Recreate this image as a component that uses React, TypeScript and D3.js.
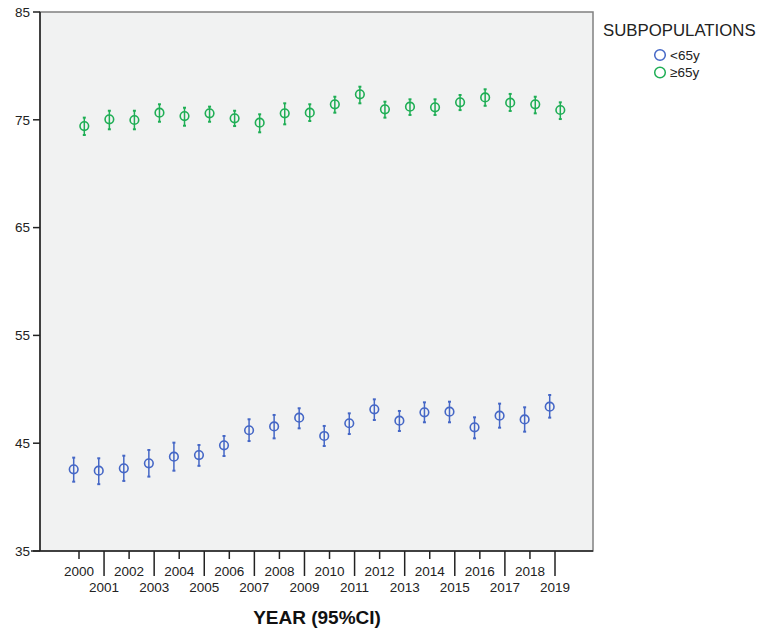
import React from "react";
import * as d3 from "d3";

const years = [2000,2001,2002,2003,2004,2005,2006,2007,2008,2009,2010,2011,2012,2013,2014,2015,2016,2017,2018,2019];
const seriesNames = ["<65y", "≥65y"];
const under65Mean = [42.58,42.45,42.67,43.13,43.75,43.9,44.8,46.2,46.56,47.37,45.67,46.85,48.14,47.09,47.86,47.92,46.47,47.55,47.21,48.39];
const under65Low =  [41.43,41.2,41.5,41.9,42.45,42.9,43.81,45.2,45.45,46.38,44.74,45.85,47.15,46.13,46.94,46.94,45.45,46.44,46.07,47.37];
const under65High = [43.66,43.6,43.84,44.37,45.05,44.83,45.67,47.22,47.62,48.24,46.6,47.77,49.07,47.99,48.79,48.85,47.4,48.67,48.33,49.47];
const over65Mean = [74.42,75.04,74.98,75.66,75.35,75.6,75.14,74.73,75.6,75.66,76.44,77.36,75.97,76.22,76.16,76.62,77.08,76.59,76.44,75.91];
const over65Low =  [73.59,74.12,74.12,74.82,74.45,74.82,74.42,73.84,74.58,74.89,75.66,76.53,75.2,75.45,75.45,75.9,76.3,75.82,75.6,75.07];
const over65High = [75.2,75.84,75.84,76.44,76.12,76.22,75.84,75.51,76.53,76.44,77.14,78.07,76.68,76.9,76.9,77.3,77.83,77.4,77.14,76.62];
const yTicks = [35,45,55,65,75,85];
const colors = ["#4567c6", "#1fae55"];

const FONT = "'Liberation Sans', Arial, sans-serif";

export default function App() {
  const left = 40, right = 593, top = 12, bottom = 551;
  const x = d3.scaleLinear().domain([2000, 2019]).range([79, 555]);
  const y = d3.scaleLinear().domain([35, 85]).range([bottom, top]);
  const dodge = [-5.3, 5.3];
  const series = [
    { mean: under65Mean, low: under65Low, high: under65High },
    { mean: over65Mean, low: over65Low, high: over65High },
  ];
  return (
    <svg width={762} height={633} style={{ position: "absolute", left: 0, top: 0 }} fontFamily={FONT}>
      <rect x={0} y={0} width={762} height={633} fill="#ffffff" />
      <rect x={left} y={top} width={right - left} height={bottom - top} fill="#f1f2f2" stroke="#808080" strokeWidth={1.5} />
      <line x1={left} x2={left} y1={top} y2={bottom} stroke="#222" strokeWidth={1.5} />
      <line x1={31} x2={right} y1={bottom} y2={bottom} stroke="#222" strokeWidth={1.5} />
      {yTicks.map((t) => (
        <g key={t}>
          <line x1={33} x2={left} y1={y(t)} y2={y(t)} stroke="#222" strokeWidth={1.5} />
          <text x={30} y={y(t)} dy="0.35em" textAnchor="end" fontSize={13.5} fill="#222">{t}</text>
        </g>
      ))}
      {years.map((yr, i) => {
        const odd = i % 2 === 1;
        return (
          <g key={yr}>
            <line x1={x(yr)} x2={x(yr)} y1={bottom} y2={odd ? bottom + 25 : bottom + 8} stroke="#222" strokeWidth={1.5} />
            <text x={x(yr)} y={odd ? 591.5 : 575.5} textAnchor="middle" fontSize={13.5} fill="#222">{yr}</text>
          </g>
        );
      })}
      <text x={317} y={624} textAnchor="middle" fontSize={19} fontWeight="bold" fill="#111">YEAR (95%CI)</text>
      {series.map((s, si) => (
        <g key={si} stroke={colors[si]} fill="none">
          {years.map((yr, i) => {
            const cx = x(yr) + dodge[si];
            return (
              <g key={yr}>
                <line x1={cx} x2={cx} y1={y(s.low[i])} y2={y(s.high[i])} strokeWidth={1.5} />
                <line x1={cx - 1.5} x2={cx + 1.5} y1={y(s.low[i])} y2={y(s.low[i])} strokeWidth={2} />
                <line x1={cx - 1.5} x2={cx + 1.5} y1={y(s.high[i])} y2={y(s.high[i])} strokeWidth={2} />
                <circle cx={cx} cy={y(s.mean[i])} r={4.3} strokeWidth={1.6} />
              </g>
            );
          })}
        </g>
      ))}
      <text x={603} y={36} fontSize={16.8} fill="#222">SUBPOPULATIONS</text>
      {seriesNames.map((n, i) => (
        <g key={n}>
          <circle cx={660} cy={55 + i * 17.5} r={5.3} fill="none" stroke={colors[i]} strokeWidth={1.5} />
          <text x={670} y={55 + i * 17.5} dy="0.35em" fontSize={13.5} fill="#222">{n}</text>
        </g>
      ))}
    </svg>
  );
}
